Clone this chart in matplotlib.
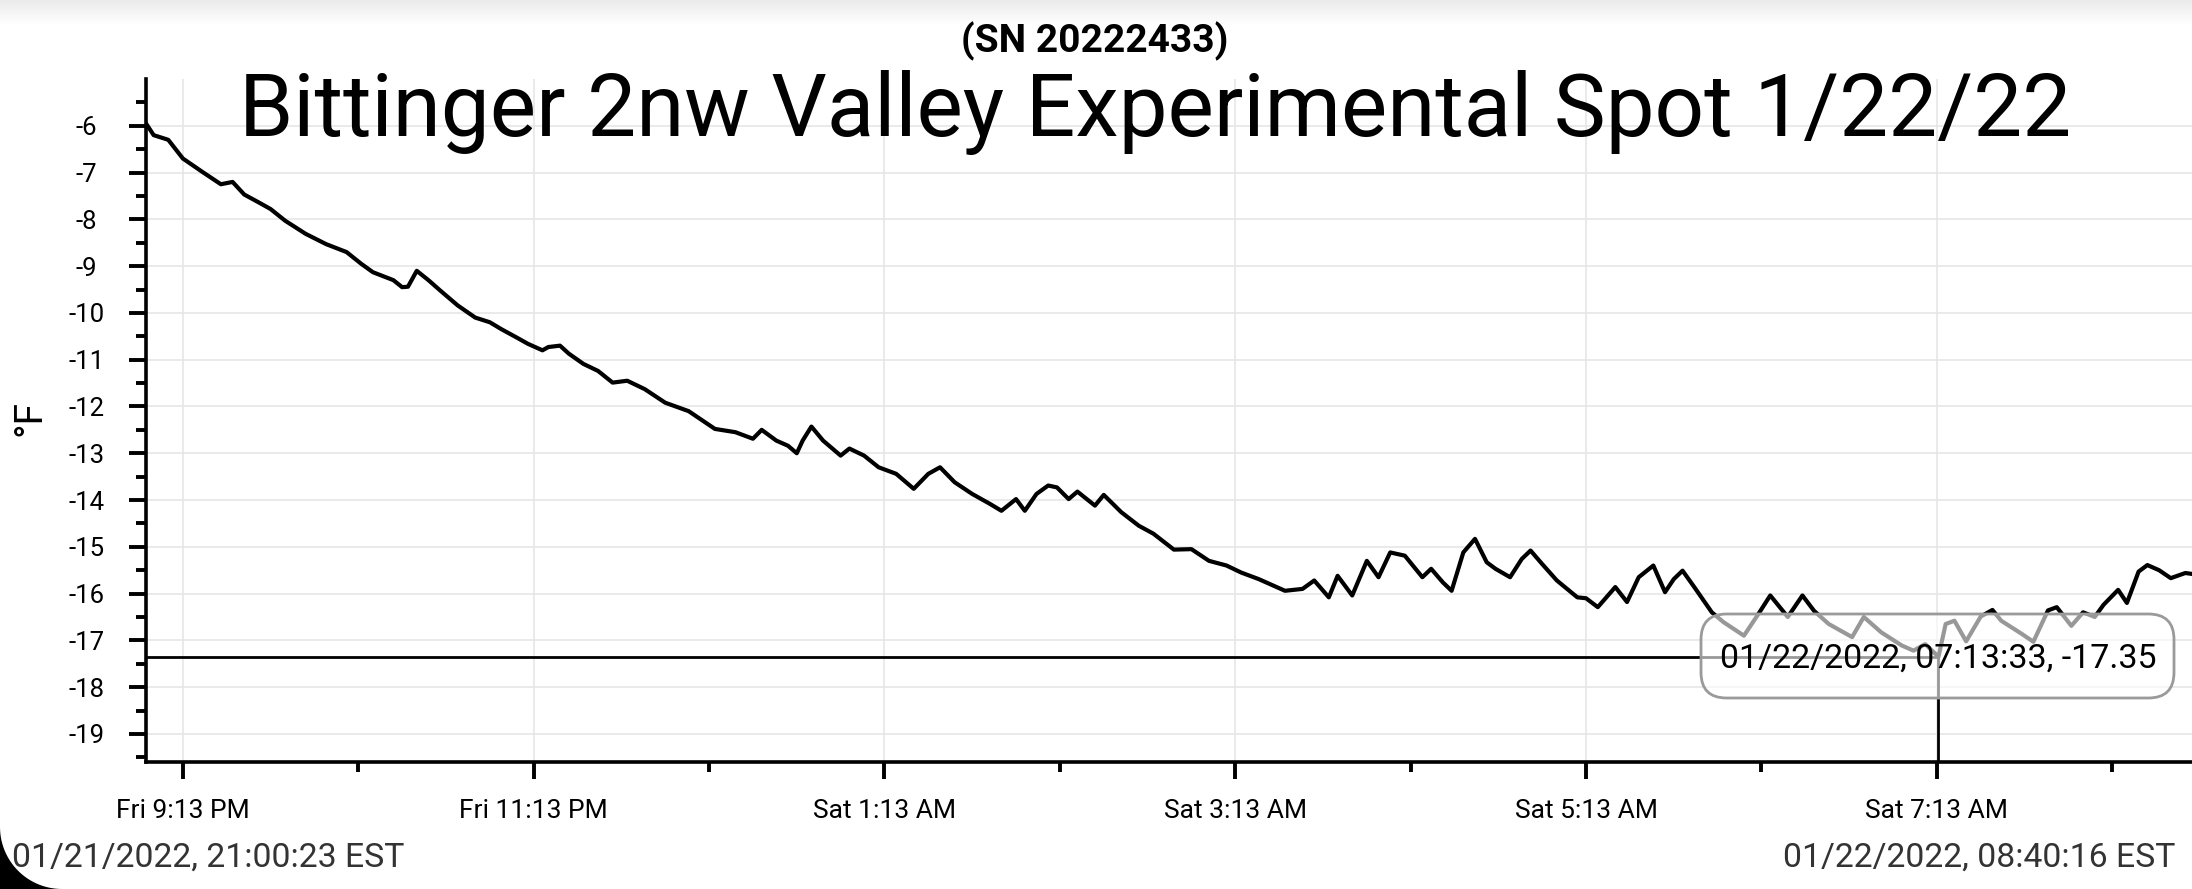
import numpy as np
import pandas as pd
import matplotlib
matplotlib.use("Agg")
import matplotlib.pyplot as plt
from matplotlib.patches import Polygon, FancyBboxPatch

plt.rcParams['font.family'] = ['Roboto', 'DejaVu Sans']
plt.rcParams['axes.unicode_minus'] = False

# readings (clock time, deg F)
times = ["21:00:23", "21:03", "21:08", "21:13", "21:20", "21:26", "21:30", "21:34", "21:39", "21:43",
         "21:48", "21:55", "22:02", "22:09", "22:14", "22:18", "22:25", "22:28", "22:30", "22:33",
         "22:37", "22:41", "22:47", "22:53", "22:58", "23:02", "23:07", "23:11", "23:16", "23:18",
         "23:22", "23:25", "23:30", "23:35", "23:40", "23:45", "23:51", "23:58", "00:06", "00:10",
         "00:15", "00:22", "00:28", "00:31", "00:36", "00:40", "00:43", "00:45", "00:48", "00:52",
         "00:58", "01:01", "01:06", "01:11", "01:17", "01:23", "01:28", "01:32", "01:37", "01:43",
         "01:49", "01:53", "01:58", "02:01", "02:05", "02:09", "02:12", "02:16", "02:19", "02:25",
         "02:28", "02:34", "02:40", "02:45", "02:52", "02:58", "03:04", "03:10", "03:15", "03:21",
         "03:26", "03:30", "03:36", "03:40", "03:45", "03:48", "03:53", "03:58", "04:02", "04:06",
         "04:11", "04:17", "04:20", "04:24", "04:27", "04:31", "04:35", "04:39", "04:42", "04:47",
         "04:51", "04:54", "04:58", "05:03", "05:10", "05:13", "05:17", "05:23", "05:27", "05:31",
         "05:36", "05:40", "05:43", "05:46", "05:50", "05:56", "06:00", "06:07", "06:12", "06:16",
         "06:22", "06:27", "06:31", "06:36", "06:44", "06:48", "06:54", "07:01", "07:05", "07:09",
         "07:13:33", "07:16", "07:19", "07:23", "07:28", "07:32", "07:35", "07:42", "07:46", "07:51",
         "07:54", "07:59", "08:03", "08:07", "08:10", "08:15", "08:18", "08:22", "08:25", "08:29",
         "08:33", "08:38", "08:40:16"]
temps = [-5.95, -6.2, -6.3, -6.7, -7.0, -7.25, -7.2, -7.47, -7.64, -7.78,
         -8.03, -8.31, -8.53, -8.7, -8.95, -9.13, -9.3, -9.45, -9.44, -9.1,
         -9.3, -9.52, -9.84, -10.1, -10.2, -10.35, -10.52, -10.66, -10.8, -10.73,
         -10.7, -10.87, -11.09, -11.24, -11.49, -11.45, -11.63, -11.92, -12.1, -12.27,
         -12.48, -12.55, -12.69, -12.5, -12.73, -12.84, -13.0, -12.73, -12.43, -12.73,
         -13.05, -12.9, -13.05, -13.3, -13.44, -13.76, -13.44, -13.3, -13.62, -13.87,
         -14.08, -14.23, -13.98, -14.23, -13.87, -13.69, -13.73, -13.98, -13.82, -14.12,
         -13.89, -14.26, -14.55, -14.72, -15.06, -15.05, -15.3, -15.4, -15.55, -15.69,
         -15.83, -15.94, -15.9, -15.72, -16.08, -15.62, -16.04, -15.3, -15.65, -15.12,
         -15.19, -15.65, -15.47, -15.76, -15.94, -15.12, -14.83, -15.33, -15.47, -15.65,
         -15.26, -15.08, -15.37, -15.72, -16.08, -16.1, -16.29, -15.86, -16.18, -15.65,
         -15.4, -15.97, -15.69, -15.51, -15.86, -16.4, -16.61, -16.9, -16.43, -16.04,
         -16.5, -16.04, -16.37, -16.65, -16.93, -16.5, -16.83, -17.11, -17.22, -17.08,
         -17.35, -16.65, -16.58, -17.02, -16.49, -16.35, -16.58, -16.86, -17.03, -16.36,
         -16.29, -16.69, -16.4, -16.5, -16.24, -15.92, -16.2, -15.53, -15.39, -15.5,
         -15.67, -15.56, -15.58]

cursor_time = "07:13:33"
cursor_temp = -17.35

title = "Bittinger 2nw Valley Experimental Spot 1/22/22"
subtitle = "(SN 20222433)"
start_label = "01/21/2022, 21:00:23 EST"
end_label = "01/22/2022, 08:40:16 EST"


def to_dt(t):
    day = "2022-01-21" if int(t[:2]) >= 12 else "2022-01-22"
    return pd.Timestamp(day + " " + t)


x = [to_dt(t) for t in times]
cx = to_dt(cursor_time)

W, H = 2192, 889
fig = plt.figure(figsize=(W / 100, H / 100), dpi=100)
ax_l, ax_b, ax_w, ax_h = 146, 762, W - 146, 762 - 79
ax = fig.add_axes([ax_l / W, 1 - ax_b / H, ax_w / W, ax_h / H])

ax.plot(x, temps, color='black', lw=3.0, zorder=3)

# crosshair
ax.plot([x[0], cx], [cursor_temp, cursor_temp], color='black', lw=2, zorder=4)
ax.plot([cx, cx], [-19.6, cursor_temp], color='black', lw=2, zorder=4)

# tooltip
ax.text(cx, cursor_temp - 0.04, "01/22/2022, 07:13:33, -17.35", ha='center', va='center',
        fontsize=24.5, color='black', zorder=6)
bx0, bx1, by0, by1 = 1701, 2174, 614, 698
box = FancyBboxPatch(((bx0 - ax_l) / ax_w, (ax_b - by1) / ax_h),
                     (bx1 - bx0) / ax_w, (by1 - by0) / ax_h,
                     boxstyle='round,pad=0,rounding_size=0.0125',
                     mutation_aspect=ax_w / ax_h, transform=ax.transAxes,
                     fc=(1, 1, 1, 0.6), ec='#9a9a9a', lw=2, zorder=5)
ax.add_patch(box)

ax.set_xlim(x[0], x[-1])
ax.set_ylim(-19.6, -5.0)

ax.set_yticks(np.arange(-19, -5))
ax.set_yticks(np.arange(-19.5, -5, 1.0), minor=True)
ax.yaxis.set_major_formatter(matplotlib.ticker.FuncFormatter(lambda v, p: "%d" % v))

major_x = pd.date_range("2022-01-21 21:13", "2022-01-22 08:13", freq="2h")
minor_x = pd.date_range("2022-01-21 22:13", "2022-01-22 08:40", freq="2h")
ax.set_xticks(major_x)
ax.set_xticks(minor_x, minor=True)
ax.set_xticklabels([d.strftime("%a %-I:%M %p") for d in major_x])

for s in ['top', 'right']:
    ax.spines[s].set_visible(False)
for s in ['left', 'bottom']:
    ax.spines[s].set_linewidth(2.6)

ax.tick_params(axis='both', which='major', length=12, width=2.8)
ax.tick_params(axis='both', which='minor', length=7, width=2.8)
ax.tick_params(axis='x', which='major', pad=15, labelsize=19)
ax.tick_params(axis='y', which='major', pad=31, labelsize=18.5)
for lab in ax.get_yticklabels():
    lab.set_horizontalalignment('center')

ax.grid(True, which='major', color='#e6e6e6', lw=1.2, zorder=0)
ax.set_axisbelow(True)

fig.text(30 / W, 1 - 418 / H, "°F", rotation=90, ha='center', va='center', fontsize=28)

fig.text(1155 / W, 1 - 136 / H, title, ha='center', va='baseline', fontsize=62.7)
fig.text(1095 / W, 1 - 52 / H, subtitle, ha='center', va='baseline', fontsize=28,
         fontweight='bold')

fig.text(12 / W, 1 - 867 / H, start_label, ha='left', va='baseline', fontsize=24.3, color='#333333')
fig.text(2175 / W, 1 - 867 / H, end_label, ha='right', va='baseline', fontsize=24.3, color='#333333')

# top grey band of the screenshot
band = fig.add_axes([0, 1 - 26 / H, 1, 26 / H])
band.imshow(np.linspace(0.92, 1.0, 50).reshape(-1, 1), cmap='gray', vmin=0, vmax=1,
            aspect='auto', extent=[0, 1, 0, 1])
band.axis('off')

# rounded black corner bottom left
r = 62
ang = np.linspace(np.pi, 1.5 * np.pi, 30)
cxp, cyp = r, H - r
pts = [(0, H - r)] + [(cxp + r * np.cos(a), cyp - r * np.sin(a)) for a in ang] + [(0, H)]
pts = [(px / W, 1 - py / H) for px, py in pts]
fig.patches.append(Polygon(pts, closed=True, transform=fig.transFigure, fc='black', ec='none'))

fig.savefig("out.png", dpi=100)
